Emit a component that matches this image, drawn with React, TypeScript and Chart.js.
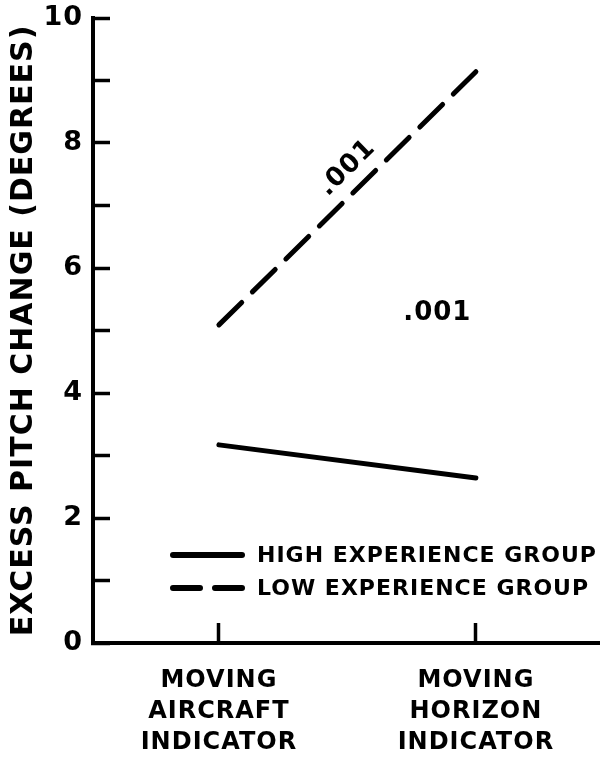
import React, { useEffect, useRef } from 'react';
import { Chart, registerables } from 'chart.js';

Chart.register(...registerables);

const categoryLabels = [
  ['MOVING', 'AIRCRAFT', 'INDICATOR'],
  ['MOVING', 'HORIZON', 'INDICATOR'],
];
const categoryPositions = [0, 1];
const highExperience = [3.17, 2.64];
const lowExperience = [5.09, 9.14];
const seriesNames = ['HIGH EXPERIENCE GROUP', 'LOW EXPERIENCE GROUP'];
const yTickValues = [0, 1, 2, 3, 4, 5, 6, 7, 8, 9, 10];
const yTitle = 'EXCESS PITCH CHANGE (DEGREES)';
const significanceTexts = ['.001', '.001'];
const significanceAnchorX = [0.5, 0.85];
const significanceAnchorY = [7.6, 5.28];
const significanceRotated = [true, false];

const FONT = '"DejaVu Sans", sans-serif';

const spacingPlugin = {
  id: 'spacing',
  beforeDraw(chart: any) {
    (chart.ctx as any).letterSpacing = '1px';
  },
};

const annotationPlugin = {
  id: 'annotations',
  afterDatasetsDraw(chart: any) {
    const ctx = chart.ctx;
    const xs = chart.scales.x;
    const ys = chart.scales.y;
    const ds = chart.data.datasets[1].data;
    const dx = xs.getPixelForValue(ds[1].x) - xs.getPixelForValue(ds[0].x);
    const dy = ys.getPixelForValue(ds[1].y) - ys.getPixelForValue(ds[0].y);
    const angle = Math.atan2(dy, dx);
    ctx.save();
    (ctx as any).letterSpacing = '1px';
    ctx.fillStyle = '#000';
    ctx.font = `bold 26px ${FONT}`;
    ctx.textAlign = 'center';
    ctx.textBaseline = 'middle';
    significanceTexts.forEach((t, i) => {
      const px = xs.getPixelForValue(significanceAnchorX[i]);
      const py = ys.getPixelForValue(significanceAnchorY[i]);
      ctx.save();
      ctx.translate(px, py);
      if (significanceRotated[i]) ctx.rotate(angle);
      ctx.fillText(t, 0, 0);
      ctx.restore();
    });
    ctx.restore();
  },
};

const legendPlugin = {
  id: 'customLegend',
  afterDraw(chart: any) {
    const ctx = chart.ctx;
    const area = chart.chartArea;
    const x0 = area.left + 80;
    const x1 = area.left + 149;
    const rows = [555, 588];
    ctx.save();
    chart.data.datasets.forEach((d: any, i: number) => {
      const y = rows[i];
      ctx.beginPath();
      ctx.strokeStyle = d.borderColor;
      ctx.lineWidth = d.borderWidth + 1;
      ctx.lineCap = 'round';
      ctx.setLineDash(i === 1 ? [27, 15] : []);
      ctx.moveTo(x0, y);
      ctx.lineTo(x1, y);
      ctx.stroke();
      ctx.setLineDash([]);
      (ctx as any).letterSpacing = '1px';
      ctx.fillStyle = '#000';
      ctx.font = `bold 22px ${FONT}`;
      ctx.textAlign = 'left';
      ctx.textBaseline = 'middle';
      ctx.fillText(d.label, x1 + 15, y + 1);
    });
    ctx.restore();
  },
};

export default function App() {
  const ref = useRef<HTMLCanvasElement | null>(null);

  useEffect(() => {
    if (!ref.current) return;
    const chart = new Chart(ref.current, {
      type: 'line',
      data: {
        datasets: [
          {
            label: seriesNames[0],
            data: categoryPositions.map((x, i) => ({ x, y: highExperience[i] })),
            borderColor: '#000',
            borderWidth: 5,
            borderCapStyle: 'round',
            pointRadius: 0,
            fill: false,
          },
          {
            label: seriesNames[1],
            data: categoryPositions.map((x, i) => ({ x, y: lowExperience[i] })),
            borderColor: '#000',
            borderWidth: 5,
            borderCapStyle: 'round',
            borderDash: [32, 15],
            pointRadius: 0,
            fill: false,
          },
        ],
      },
      options: {
        animation: false,
        responsive: false,
        devicePixelRatio: 1,
        layout: { padding: 0 },
        plugins: {
          legend: { display: false },
          tooltip: { enabled: false },
        },
        scales: {
          x: {
            type: 'linear',
            min: -0.49,
            max: 1.483,
            afterBuildTicks: (scale: any) => {
              scale.ticks = categoryPositions.map((v) => ({ value: v }));
            },
            afterFit: (scale: any) => {
              scale.height = 122;
              scale.paddingLeft = 0;
              scale.paddingRight = 0;
            },
            grid: {
              display: true,
              drawOnChartArea: false,
              drawTicks: true,
              tickLength: -20,
              tickWidth: 3.5,
              tickColor: '#000',
            },
            border: { display: true, width: 4, color: '#000' },
            ticks: {
              color: '#000',
              padding: 42,
              maxRotation: 0,
              autoSkip: false,
              font: { family: FONT, size: 24, weight: 'bold', lineHeight: 1.3 },
              callback: (v: any) => {
                const idx = categoryPositions.indexOf(Number(v));
                return idx >= 0 ? categoryLabels[idx] : '';
              },
            },
          },
          y: {
            type: 'linear',
            min: 0,
            max: 10,
            afterBuildTicks: (scale: any) => {
              scale.ticks = yTickValues.map((v) => ({ value: v }));
            },
            afterFit: (scale: any) => {
              scale.width = 93;
              scale.paddingTop = 18;
              scale.paddingBottom = 0;
            },
            grid: {
              display: true,
              drawOnChartArea: false,
              drawTicks: true,
              tickLength: -17,
              tickWidth: 3.5,
              tickColor: '#000',
            },
            border: { display: true, width: 4, color: '#000' },
            ticks: {
              color: '#000',
              padding: 27,
              autoSkip: false,
              font: { family: FONT, size: 27, weight: 'bold' },
              callback: (v: any) => (Number(v) % 2 === 0 ? String(v) : ''),
            },
            title: {
              display: true,
              text: yTitle,
              color: '#000',
              padding: { top: 6, bottom: 0 },
              font: { family: FONT, size: 30, weight: 'bold', lineHeight: 1.2 },
            },
          },
        },
      },
      plugins: [spacingPlugin, annotationPlugin, legendPlugin],
    } as any);
    return () => chart.destroy();
  }, []);

  return (
    <div style={{ position: 'absolute', left: 0, top: 0, width: 600, height: 765, background: '#fff' }}>
      <canvas ref={ref} width={600} height={765} />
    </div>
  );
}
